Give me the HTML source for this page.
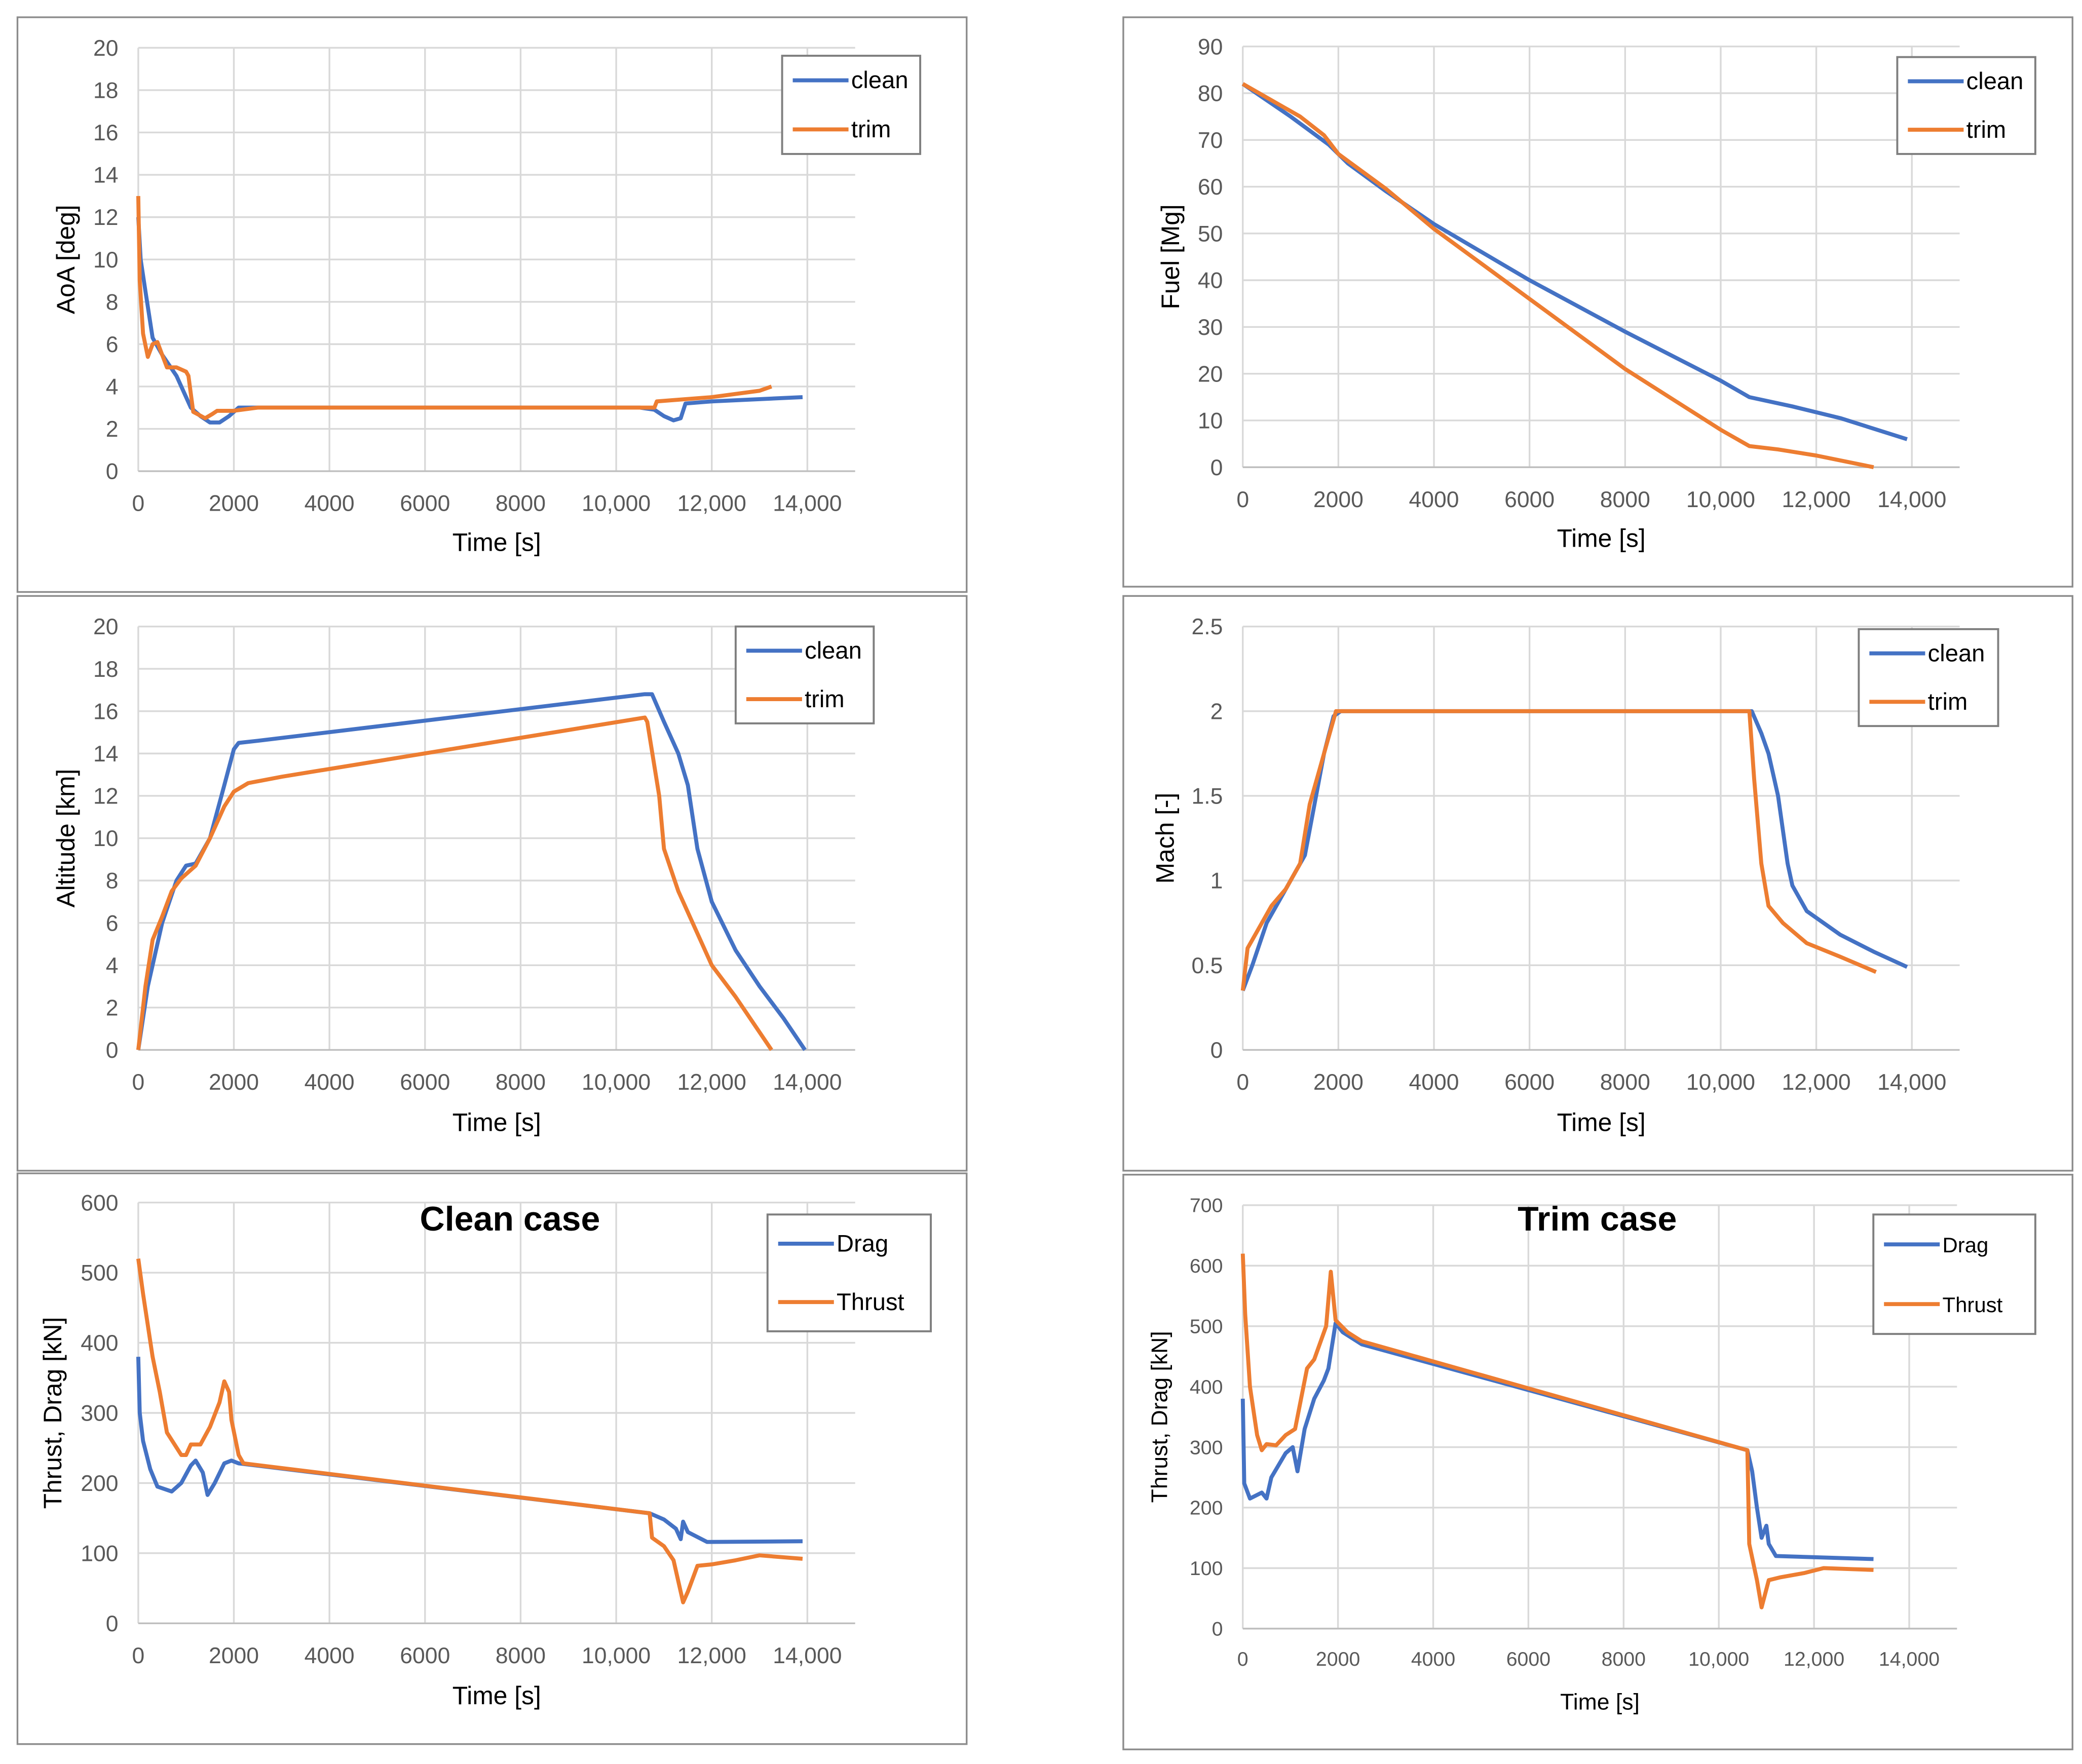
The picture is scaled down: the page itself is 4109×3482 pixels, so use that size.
<!DOCTYPE html>
<html><head><meta charset="utf-8"><style>
html,body{margin:0;padding:0;background:#fff}
svg{display:block}
text{font-family:"Liberation Sans",Arial,sans-serif}
</style></head><body>
<svg id="root" width="4109" height="3482" viewBox="0 0 1568 1329" xmlns="http://www.w3.org/2000/svg"></svg>
<script>
const xTicks = [0,2000,4000,6000,8000,10000,12000,14000];
const xTickLabels = ["0","2000","4000","6000","8000","10,000","12,000","14,000"];

const aoaClean = [[0,12],[50,10],[150,8.5],[300,6.3],[500,5.5],[800,4.5],[1100,3],[1300,2.6],[1500,2.3],[1700,2.3],[1900,2.6],[2100,3],[2300,3],[10500,3],[10800,2.9],[11000,2.6],[11200,2.4],[11350,2.5],[11450,3.2],[12000,3.3],[13900,3.5]];
const aoaTrim = [[0,13],[30,9],[100,6.5],[200,5.4],[300,6],[400,6.1],[500,5.5],[600,4.9],[800,4.9],[1000,4.7],[1050,4.5],[1150,2.8],[1400,2.5],[1550,2.7],[1650,2.85],[2000,2.85],[2500,3],[10800,3],[10850,3.3],[12000,3.5],[13000,3.8],[13250,4]];

const fuelClean = [[0,82],[1000,75],[1800,69],[2200,65],[3000,59],[4000,52],[6000,40],[8000,29],[10000,18.5],[10600,15],[11500,13],[12500,10.5],[13900,6]];
const fuelTrim = [[0,82],[1200,75],[1700,71],[2000,67],[3000,59.5],[4000,51],[6000,36],[8000,21],[10000,8],[10600,4.5],[11200,3.8],[12000,2.5],[13200,0]];

const altClean = [[0,0],[200,3],[500,6],[800,8],[1000,8.7],[1200,8.8],[1500,10],[1800,12.5],[2000,14.2],[2100,14.5],[2500,14.6],[10600,16.8],[10750,16.8],[11000,15.5],[11300,14],[11500,12.5],[11700,9.5],[12000,7],[12500,4.7],[13000,3],[13500,1.5],[13950,0]];
const altTrim = [[0,0],[150,3],[300,5.2],[500,6.3],[700,7.5],[900,8.1],[1200,8.7],[1500,10],[1800,11.5],[2000,12.2],[2300,12.6],[3000,12.9],[10600,15.7],[10650,15.5],[10900,12],[11000,9.5],[11300,7.5],[11700,5.5],[12000,4],[12500,2.5],[13250,0]];

const machClean = [[0,0.35],[200,0.5],[500,0.75],[800,0.9],[1100,1.05],[1300,1.15],[1500,1.45],[1700,1.75],[1900,1.97],[2050,2],[10650,2],[10850,1.87],[11000,1.75],[11200,1.5],[11400,1.1],[11500,0.97],[11800,0.82],[12500,0.68],[13200,0.58],[13900,0.49]];
const machTrim = [[0,0.35],[100,0.6],[300,0.7],[600,0.85],[900,0.95],[1200,1.1],[1400,1.45],[1600,1.65],[1800,1.85],[1950,2],[10600,2],[10700,1.6],[10850,1.1],[11000,0.85],[11300,0.75],[11800,0.63],[12500,0.55],[13250,0.46]];

const cleanDrag = [[0,380],[30,300],[100,260],[250,220],[400,195],[700,188],[900,200],[1100,225],[1200,232],[1350,215],[1450,183],[1600,200],[1800,228],[1950,232],[2100,228],[10700,157],[11000,148],[11250,135],[11350,120],[11400,145],[11500,130],[11900,116],[13900,117]];
const cleanThrust = [[0,520],[100,470],[300,380],[450,330],[600,272],[900,240],[1000,240],[1100,255],[1300,255],[1500,280],[1700,315],[1800,345],[1900,330],[1950,290],[2100,240],[2200,228],[10700,157],[10750,122],[11000,110],[11200,90],[11400,30],[11500,45],[11700,82],[12000,84],[12500,90],[13000,97],[13900,92]];

const trimDrag = [[0,380],[30,240],[150,215],[400,225],[500,215],[600,250],[900,290],[1050,300],[1150,260],[1300,330],[1500,380],[1700,410],[1800,430],[1900,480],[1950,505],[2100,490],[2500,470],[10600,295],[10700,260],[10800,200],[10900,150],[11000,170],[11050,140],[11200,120],[12000,118],[13250,115]];
const trimThrust = [[0,620],[50,520],[150,400],[300,320],[400,295],[500,305],[700,303],[900,320],[1100,330],[1350,430],[1500,445],[1750,500],[1850,590],[1950,510],[2200,490],[2500,475],[10600,295],[10640,140],[10800,80],[10900,35],[11050,80],[11300,85],[11800,92],[12200,100],[13250,97]];

const aoaTicks=[0,2,4,6,8,10,12,14,16,18,20];
const fuelTicks=[0,10,20,30,40,50,60,70,80,90];
const altTicks=[0,2,4,6,8,10,12,14,16,18,20];
const machTicks=[0,0.5,1,1.5,2,2.5];
const cleanForceTicks=[0,100,200,300,400,500,600];
const trimForceTicks=[0,100,200,300,400,500,600,700];

const NS="http://www.w3.org/2000/svg";
const root=document.getElementById('root');
function mk(tag,attrs,parent){const e=document.createElementNS(NS,tag);for(const k in attrs)e.setAttribute(k,attrs[k]);(parent||root).appendChild(e);return e;}
const BLUE="#4472c4", ORANGE="#ed7d31";

function chart(c){
  const g=mk('g',{});
  
  
  const fr=mk('rect',{x:c.box[0],y:c.box[1],width:c.box[2]-c.box[0],height:c.box[3]-c.box[1],fill:'#fff',stroke:'#8c8c8c','stroke-width':1.3},g);
  
  
  const ymax=c.yTicks[c.yTicks.length-1];
  const X=t=>c.x0+(t/14000)*(c.x14-c.x0);
  const Y=v=>c.y0-(v/ymax)*(c.y0-c.yTop);
  const fs=c.fs||17;
  xTicks.forEach((t,i)=>{
    const l=mk('line',{x1:X(t),x2:X(t),y1:c.yTop,y2:c.y0,stroke:'#d9d9d9','stroke-width':1.3},g);
    
    
    const tx=mk('text',{x:X(t),y:c.y0+fs+13,'text-anchor':'middle','font-size':fs,fill:'#595959'},g);
    tx.textContent=xTickLabels[i];
    
    
  });
  c.yTicks.forEach(v=>{
    const l=mk('line',{x1:c.x0,x2:c.xr,y1:Y(v),y2:Y(v),stroke:v===0?'#bfbfbf':'#d9d9d9','stroke-width':1.3},g);
    
    
    const tx=mk('text',{x:c.x0-15,y:Y(v)+fs*0.35,'text-anchor':'end','font-size':fs,fill:'#595959'},g);
    tx.textContent=String(v);
    
    
  });
  c.series.forEach(s=>{
    const p=mk('polyline',{points:s.data.map(d=>X(d[0]).toFixed(1)+','+Y(d[1]).toFixed(1)).join(' '),fill:'none',stroke:s.color,'stroke-width':3,'stroke-linejoin':'round'},g);
    
    
  });
  const xt=mk('text',{x:(c.x0+c.xr)/2,y:c.xTitleY,'text-anchor':'middle','font-size':fs+2,fill:'#000'},g);
  xt.textContent='Time [s]';
  
  
  const yc=(c.y0+c.yTop)/2;
  const yt=mk('text',{x:c.yTitleX,y:yc,'text-anchor':'middle','font-size':fs+2,fill:'#000',transform:`rotate(-90 ${c.yTitleX} ${yc})`},g);
  yt.textContent=c.yTitle;
  
  
  if(c.title){
    const tt=mk('text',{x:c.title[1],y:c.title[2],'text-anchor':'middle','font-size':26,'font-weight':'bold',fill:'#000'},g);
    tt.textContent=c.title[0];
    
    
  }
  const L=c.legend;
  const lg=mk('g',{},g);
  
  
  mk('rect',{x:L[0],y:L[1],width:L[2]-L[0],height:L[3]-L[1],fill:'#fff',stroke:'#7f7f7f','stroke-width':1.5},lg);
  const rowH=(L[3]-L[1])/2;
  c.series.forEach((s,i)=>{
    const cy=L[1]+rowH*(i+0.5);
    const ln=mk('line',{x1:L[0]+8,x2:L[0]+50,y1:cy,y2:cy,stroke:s.color,'stroke-width':3},lg);
    
    
    const tx=mk('text',{x:L[0]+52,y:cy+6,'font-size':fs+1,fill:'#000'},lg);
    tx.textContent=s.label;
    
    
  });
}

chart({name:'aoa-chart',box:[13,13,728,446],x0:104,x14:608,xr:644,y0:355,yTop:36,yTicks:aoaTicks,yTitle:'AoA [deg]',yTitleX:56,xTitleY:415,legend:[589,42,693,116],
  series:[{label:'clean',color:BLUE,data:aoaClean},{label:'trim',color:ORANGE,data:aoaTrim}]});
chart({name:'fuel-chart',box:[846,13,1561,442],x0:936,x14:1440,xr:1476,y0:352,yTop:35,yTicks:fuelTicks,yTitle:'Fuel [Mg]',yTitleX:888,xTitleY:412,legend:[1429,43,1533,116],
  series:[{label:'clean',color:BLUE,data:fuelClean},{label:'trim',color:ORANGE,data:fuelTrim}]});
chart({name:'altitude-chart',box:[13,449,728,882],x0:104,x14:608,xr:644,y0:791,yTop:472,yTicks:altTicks,yTitle:'Altitude [km]',yTitleX:56,xTitleY:852,legend:[554,472,658,545],
  series:[{label:'clean',color:BLUE,data:altClean},{label:'trim',color:ORANGE,data:altTrim}]});
chart({name:'mach-chart',box:[846,449,1561,882],x0:936,x14:1440,xr:1476,y0:791,yTop:472,yTicks:machTicks,yTitle:'Mach [-]',yTitleX:884,xTitleY:852,legend:[1400,474,1505,547],
  series:[{label:'clean',color:BLUE,data:machClean},{label:'trim',color:ORANGE,data:machTrim}]});
chart({name:'clean-case-chart',box:[13,884,728,1314],x0:104,x14:608,xr:644,y0:1223,yTop:906,yTicks:cleanForceTicks,yTitle:'Thrust, Drag [kN]',yTitleX:46,xTitleY:1284,legend:[578,915,701,1003],title:['Clean case',384,927],
  series:[{label:'Drag',color:BLUE,data:cleanDrag},{label:'Thrust',color:ORANGE,data:cleanThrust}]});
chart({name:'trim-case-chart',box:[846,885,1561,1318],x0:936,x14:1438,xr:1474,y0:1227,yTop:908,yTicks:trimForceTicks,yTitle:'Thrust, Drag [kN]',yTitleX:879,xTitleY:1288,legend:[1411,915,1533,1005],title:['Trim case',1203,927],fs:15,
  series:[{label:'Drag',color:BLUE,data:trimDrag},{label:'Thrust',color:ORANGE,data:trimThrust}]});
</script>
</body></html>
